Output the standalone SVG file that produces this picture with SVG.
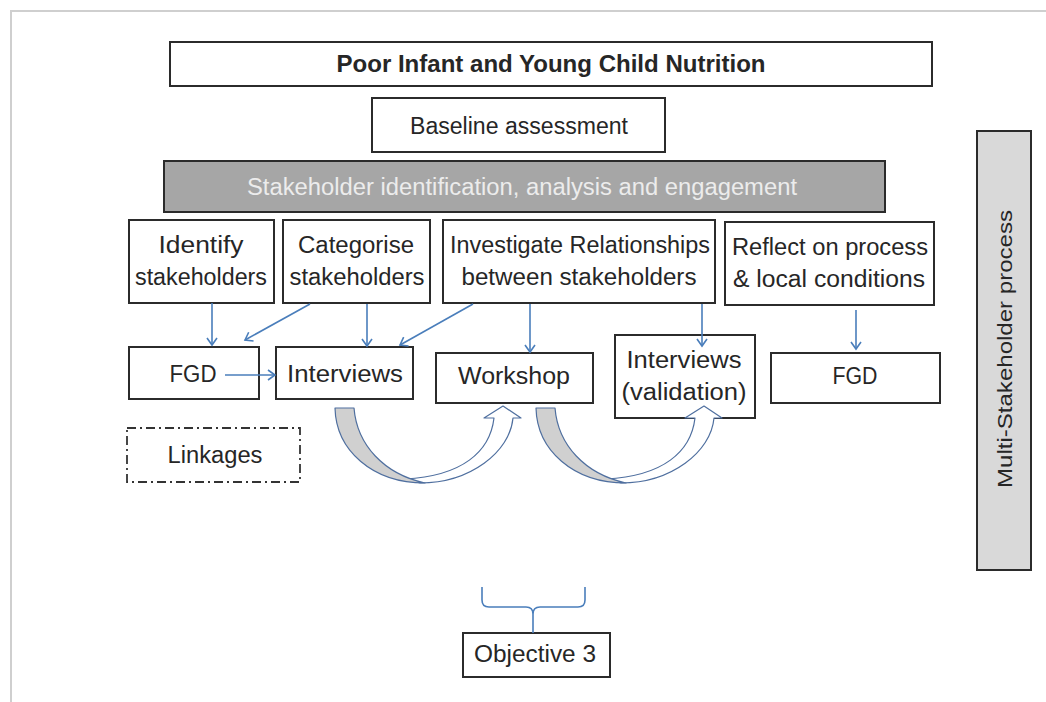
<svg xmlns="http://www.w3.org/2000/svg" width="1046" height="702" viewBox="0 0 1046 702">
<defs>
<style>
.box{fill:#fff;stroke:#2b2b2b;stroke-width:2}
.t{font-family:"Liberation Sans",Arial,sans-serif;font-size:23px;fill:#262626;text-anchor:middle}
.c{fill:none;stroke:#4a7ebb;stroke-width:1.6}
.blk{stroke:#4f6f9f;stroke-width:1.2;stroke-linejoin:round}
</style>
<marker id="ah" markerWidth="12" markerHeight="12" refX="9" refY="6" orient="auto" markerUnits="userSpaceOnUse">
<path d="M2,1 L9,6 L2,11" fill="none" stroke="#4a7ebb" stroke-width="1.6"/>
</marker>
</defs>
<rect width="1046" height="702" fill="#fff"/>
<path d="M11,702 L11,11 L1046,11" fill="none" stroke="#cfcfcf" stroke-width="2"/>

<g id="title"><rect class="box" x="170" y="42" width="762" height="44"/><text class="t" x="551" y="72" font-weight="bold" textLength="429" lengthAdjust="spacingAndGlyphs">Poor Infant and Young Child Nutrition</text></g>
<g id="baseline"><rect class="box" x="372" y="98" width="293" height="54"/><text class="t" x="519" y="134" textLength="218" lengthAdjust="spacingAndGlyphs">Baseline assessment</text></g>
<g id="stakeholder"><rect x="164" y="161" width="721" height="51" fill="#a6a6a6" stroke="#2b2b2b" stroke-width="2"/><text class="t" x="522" y="195" style="fill:#ececec" textLength="550" lengthAdjust="spacingAndGlyphs">Stakeholder identification, analysis and engagement</text></g>
<g id="multi"><rect x="977" y="131" width="54" height="439" fill="#d9d9d9" stroke="#2b2b2b" stroke-width="2"/><text class="t" transform="translate(1012,349) rotate(-90)" style="font-size:21px" textLength="278" lengthAdjust="spacingAndGlyphs">Multi-Stakeholder process</text></g>

<g id="identify"><rect class="box" x="129" y="220" width="145" height="83"/><text class="t" x="201" y="253" textLength="85" lengthAdjust="spacingAndGlyphs">Identify</text><text class="t" x="201" y="285" textLength="132" lengthAdjust="spacingAndGlyphs">stakeholders</text></g>
<g id="categorise"><rect class="box" x="283" y="220" width="147" height="83"/><text class="t" x="356" y="253" textLength="116" lengthAdjust="spacingAndGlyphs">Categorise</text><text class="t" x="357" y="285" textLength="135" lengthAdjust="spacingAndGlyphs">stakeholders</text></g>
<g id="investigate"><rect class="box" x="443" y="220" width="272" height="83"/><text class="t" x="580" y="253" textLength="260" lengthAdjust="spacingAndGlyphs">Investigate Relationships</text><text class="t" x="579" y="285" textLength="235" lengthAdjust="spacingAndGlyphs">between stakeholders</text></g>
<g id="reflect"><rect class="box" x="725" y="222" width="209" height="83"/><text class="t" x="830" y="255" textLength="196" lengthAdjust="spacingAndGlyphs">Reflect on process</text><text class="t" x="829" y="287" textLength="192" lengthAdjust="spacingAndGlyphs">&amp; local conditions</text></g>

<g id="fgd1"><rect class="box" x="129" y="347" width="130" height="52"/><text class="t" x="193" y="382" textLength="47" lengthAdjust="spacingAndGlyphs">FGD</text></g>
<g id="interviews"><rect class="box" x="276" y="347" width="137" height="52"/><text class="t" x="345" y="382" textLength="116" lengthAdjust="spacingAndGlyphs">Interviews</text></g>
<g id="workshop"><rect class="box" x="436" y="353" width="157" height="50"/><text class="t" x="514" y="384" textLength="112" lengthAdjust="spacingAndGlyphs">Workshop</text></g>
<g id="interviews2"><rect class="box" x="615" y="335" width="140" height="83"/><text class="t" x="684" y="368" textLength="115" lengthAdjust="spacingAndGlyphs">Interviews</text><text class="t" x="684" y="400" textLength="125" lengthAdjust="spacingAndGlyphs">(validation)</text></g>
<g id="fgd2"><rect class="box" x="771" y="353" width="169" height="50"/><text class="t" x="855" y="384" textLength="45" lengthAdjust="spacingAndGlyphs">FGD</text></g>

<g id="linkages"><rect x="127" y="428" width="173" height="54" fill="#fff" stroke="#333" stroke-width="1.8" stroke-dasharray="9,4,2,4"/><text class="t" x="215" y="463" textLength="95" lengthAdjust="spacingAndGlyphs">Linkages</text></g>

<g id="objective"><rect class="box" x="463" y="633" width="147" height="44"/><text class="t" x="535" y="662" textLength="122" lengthAdjust="spacingAndGlyphs">Objective 3</text></g>

<g id="connectors">
<line class="c" x1="212" y1="303" x2="212" y2="345" marker-end="url(#ah)"/>
<line class="c" x1="310" y1="304" x2="245" y2="340" marker-end="url(#ah)"/>
<line class="c" x1="367" y1="304" x2="367" y2="346" marker-end="url(#ah)"/>
<line class="c" x1="473" y1="304" x2="400" y2="345" marker-end="url(#ah)"/>
<line class="c" x1="530" y1="304" x2="530" y2="352" marker-end="url(#ah)"/>
<line class="c" x1="702" y1="304" x2="702" y2="346" marker-end="url(#ah)"/>
<line class="c" x1="856" y1="310" x2="856" y2="349" marker-end="url(#ah)"/>
<line class="c" x1="225" y1="375" x2="275" y2="375" marker-end="url(#ah)"/>
<g id="curve1">
<path class="blk" fill="#fff" d="M420,483 C470,483 510,452 513,418 L521,418 L503,406 L484,418 L494,418 C490,452 462,476 405,479 Z"/>
<path class="blk" fill="#d0d0d0" d="M335,408 L354,408 C357,445 384,474 425,483 C372,483 336,450 335,408 Z"/>
</g>
<g id="curve2" transform="translate(201,0)">
<path class="blk" fill="#fff" d="M420,483 C470,483 510,452 513,418 L521,418 L503,406 L484,418 L494,418 C490,452 462,476 405,479 Z"/>
<path class="blk" fill="#d0d0d0" d="M335,408 L354,408 C357,445 384,474 425,483 C372,483 336,450 335,408 Z"/>
</g>
<path class="c" d="M482,587 L482,600 Q482,607 489,607 L526,607 Q533,607 533,614 Q533,607 540,607 L578,607 Q585,607 585,600 L585,587 M533,612 L533,633"/>
</g>
</svg>
